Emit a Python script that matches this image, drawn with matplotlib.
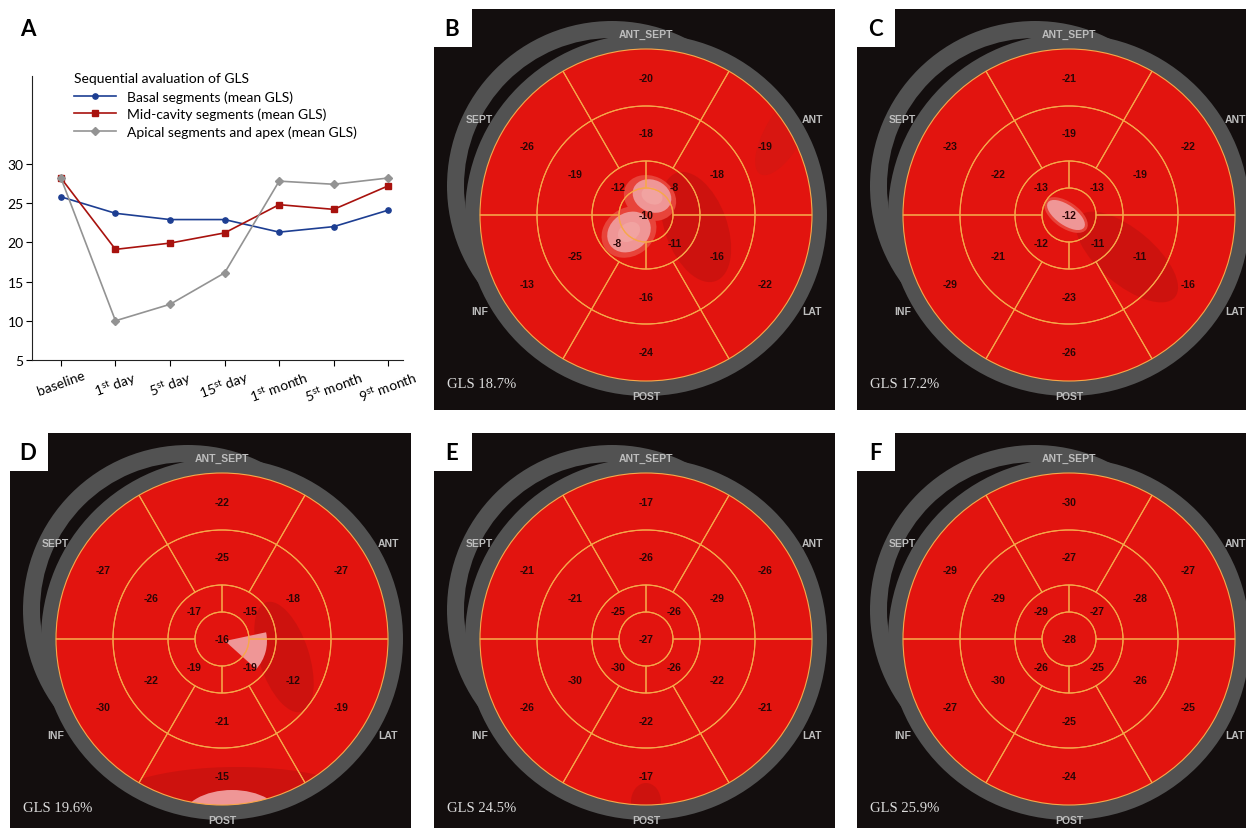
import numpy as np
import matplotlib
matplotlib.use('Agg')
import matplotlib.pyplot as plt
from matplotlib.patches import Wedge, Ellipse, Rectangle, Circle

plt.rcParams['font.family'] = ['Lato', 'DejaVu Sans']
plt.rcParams['mathtext.fontset'] = 'custom'
plt.rcParams['mathtext.rm'] = 'Lato'
plt.rcParams['mathtext.it'] = 'Lato:italic'
plt.rcParams['mathtext.bf'] = 'Lato:bold'

W, H = 1246, 829

# ---------------- panel A data ----------------
timepoints = ['baseline', r'1$^{\rm st}$ day', r'5$^{\rm st}$ day', r'15$^{\rm st}$ day',
              r'1$^{\rm st}$ month', r'5$^{\rm st}$ month', r'9$^{\rm st}$ month']
basal_gls = [25.8, 23.7, 22.9, 22.9, 21.3, 22.0, 24.1]
mid_gls = [28.2, 19.1, 19.9, 21.2, 24.8, 24.2, 27.2]
apical_gls = [28.2, 10.0, 12.1, 16.1, 27.8, 27.4, 28.2]

# ---------------- bullseye data (17 segments) ----------------
# basal / mid order: ANT_SEPT, ANT, LAT, POST, INF, SEPT (clockwise from top)
# apical order: upper-right, lower-right, lower-left, upper-left
basal_B = [-20, -19, -22, -24, -13, -26]
mid_B = [-18, -18, -16, -16, -25, -19]
apical_B = [-8, -11, -8, -12]
apex_B = -10

basal_C = [-21, -22, -16, -26, -29, -23]
mid_C = [-19, -19, -11, -23, -21, -22]
apical_C = [-13, -11, -12, -13]
apex_C = -12

basal_D = [-22, -27, -19, -15, -30, -27]
mid_D = [-25, -18, -12, -21, -22, -26]
apical_D = [-15, -19, -19, -17]
apex_D = -16

basal_E = [-17, -26, -21, -17, -26, -21]
mid_E = [-26, -29, -22, -22, -30, -21]
apical_E = [-26, -26, -30, -25]
apex_E = -27

basal_F = [-30, -27, -25, -24, -27, -29]
mid_F = [-27, -28, -26, -25, -30, -29]
apical_F = [-27, -25, -26, -29]
apex_F = -28

gls_values = {'B': 18.7, 'C': 17.2, 'D': 19.6, 'E': 24.5, 'F': 25.9}
wall_names = ['ANT_SEPT', 'ANT', 'LAT', 'POST', 'INF', 'SEPT']

# colours
RED = '#e2140f'
DARK = '#cd120e'
HALO = '#e8443a'
PINK = '#ef9696'
PINK2 = '#f1a3a1'
LINE = '#f7a84a'
GRAY = '#525252'

# texture of the scanner map (low strain spots), drawn over the red
spots = {
    'B': [('e', (50, -12), 62, 115, 20, DARK), ('e', (138, 82), 38, 95, -30, '#d81611'),
          ('e', (4, 17), 54, 44, -25, HALO), ('e', (-17, -17), 58, 48, 35, HALO),
          ('e', (6, 19), 40, 32, -25, PINK), ('e', (-17, -17), 46, 38, 35, PINK),
          ('e', (6, 19), 22, 16, -25, PINK2), ('e', (-17, -17), 24, 18, 35, PINK2)],
    'C': [('e', (58, -42), 125, 55, -40, DARK), ('e', (-3, 0), 50, 26, -35, HALO),
          ('e', (-3, 0), 44, 20, -35, PINK)],
    'D': [('e', (62, -18), 50, 115, 18, DARK), ('e', (15, -168), 270, 80, 0, DARK),
          ('w', (3, -2), 42, -42, 12, PINK), ('e', (10, -180), 100, 58, 0, PINK)],
    'E': [('e', (0, -163), 30, 38, 0, DARK)],
    'F': [],
}

fig = plt.figure(figsize=(W / 100, H / 100), dpi=100)

# ---------------- panel A ----------------
axA = fig.add_axes([32 / W, 1 - 361 / H, 371 / W, 284 / H])
x = np.arange(len(timepoints))
axA.plot(x, basal_gls, color='#1d3e92', marker='o', ms=3.8, lw=1.2,
         label='Basal segments (mean GLS)')
axA.plot(x, mid_gls, color='#a8120e', marker='s', ms=4.5, lw=1.2,
         label='Mid-cavity segments (mean GLS)')
axA.plot(x, apical_gls, color='#939393', marker='D', ms=3.6, lw=1.2,
         label='Apical segments and apex (mean GLS)')
axA.set_xlim(-0.53, 6.27)
axA.set_ylim(5, 41.2)
axA.set_yticks([5, 10, 15, 20, 25, 30])
axA.set_xticks(x)
axA.set_xticklabels(timepoints, rotation=20, ha='center', fontsize=10)
axA.tick_params(axis='y', labelsize=10, length=4, width=0.8, pad=2)
axA.tick_params(axis='x', length=4, width=0.8, pad=2)
for s in ['top', 'right']:
    axA.spines[s].set_visible(False)
for s in ['left', 'bottom']:
    axA.spines[s].set_linewidth(0.8)
    axA.spines[s].set_color('#222222')
fig.text(74 / W, 1 - 79 / H, 'Sequential avaluation of GLS', fontsize=10,
         ha='left', va='center')
leg = axA.legend(loc='upper left', bbox_to_anchor=(74 / W, 1 - 91 / H),
                 bbox_transform=fig.transFigure, frameon=False, fontsize=10,
                 handlelength=3.0, handletextpad=0.8, labelspacing=0.37,
                 borderpad=0, borderaxespad=0)
fig.text(28 / W, 1 - 30 / H, 'A', fontsize=16, fontweight='bold', ha='center', va='center')


# ---------------- bullseye panels ----------------
def bullseye(left, top, letter, basal, mid, apical, apex):
    ax = fig.add_axes([left / W, 1 - (top + 401) / H, 401 / W, 401 / H])
    ax.set_xlim(-212, 189)
    ax.set_ylim(-195, 206)
    ax.set_facecolor('#130e0e')
    ax.set_xticks([])
    ax.set_yticks([])
    for s in ax.spines.values():
        s.set_visible(False)

    # grey rings (the offset one is the shadow crescent on the upper left)
    ax.add_patch(Wedge((-34, 29), 165, 0, 360, width=17, color=GRAY, lw=0, zorder=0.5))
    ax.add_patch(Wedge((0, 0), 181, 0, 360, width=16, color=GRAY, lw=0, zorder=0.6))

    disk = Circle((0, 0), 166, transform=ax.transData)
    segs = []
    for i, v in enumerate(basal):
        a = 90 - 60 * i
        segs.append((109, 166, a - 30, a + 30, 137, a, v))
    for i, v in enumerate(mid):
        a = 90 - 60 * i
        segs.append((54, 109, a - 30, a + 30, 82, a, v))
    for i, v in enumerate(apical):
        a = 45 - 90 * i
        segs.append((27, 54, a - 45, a + 45, 40, a, v))

    for r_in, r_out, t1, t2, rt, a, v in segs:
        ax.add_patch(Wedge((0, 0), r_out, t1, t2, width=r_out - r_in,
                           facecolor=RED, edgecolor='none', zorder=1))
    ax.add_patch(Circle((0, 0), 27, facecolor=RED, edgecolor='none', zorder=1))

    for sp in spots[letter]:
        if sp[0] == 'e':
            p = Ellipse(sp[1], sp[2], sp[3], angle=sp[4], facecolor=sp[5],
                        edgecolor='none', zorder=2)
        else:
            p = Wedge(sp[1], sp[2], sp[3], sp[4], facecolor=sp[5],
                      edgecolor='none', zorder=2)
        ax.add_patch(p)
        p.set_clip_path(disk)

    for r_in, r_out, t1, t2, rt, a, v in segs:
        ax.add_patch(Wedge((0, 0), r_out, t1, t2, width=r_out - r_in,
                           fill=False, edgecolor=LINE, lw=0.8, zorder=3))
        ax.text(rt * np.cos(np.radians(a)), rt * np.sin(np.radians(a)), str(v),
                ha='center', va='center', fontsize=7.5, fontweight='bold',
                color='#2a0606', family='Liberation Sans', zorder=4)
    ax.add_patch(Circle((0, 0), 27, fill=False, edgecolor=LINE, lw=0.8, zorder=3))
    ax.text(0, 0, str(apex), ha='center', va='center', fontsize=7.5, fontweight='bold',
            color='#2a0606', family='Liberation Sans', zorder=4)

    # wall names on the grey ring
    for i, name in enumerate(wall_names):
        a = np.radians(90 - 60 * i)
        r = 181 if i in (0, 3) else 192
        ax.text(r * np.cos(a), r * np.sin(a), name, ha='center', va='center',
                fontsize=7.5, fontweight='bold', color='#bdbdbd',
                family='Liberation Sans', zorder=5)

    ax.text(-199, -169, 'GLS %.1f%%' % gls_values[letter], ha='left', va='center',
            fontsize=10.5, color='#dcdcdc', family='Liberation Serif', zorder=5)

    ax.add_patch(Rectangle((0, 1 - 38 / 401), 38 / 401, 38 / 401, transform=ax.transAxes,
                           facecolor='white', edgecolor='none', zorder=10, clip_on=False))
    ax.text(18 / 401, 1 - 20 / 401, letter, transform=ax.transAxes, ha='center', va='center',
            fontsize=16, fontweight='bold', zorder=11)


bullseye(434, 10, 'B', basal_B, mid_B, apical_B, apex_B)
bullseye(857, 10, 'C', basal_C, mid_C, apical_C, apex_C)
bullseye(10, 434, 'D', basal_D, mid_D, apical_D, apex_D)
bullseye(434, 434, 'E', basal_E, mid_E, apical_E, apex_E)
bullseye(857, 434, 'F', basal_F, mid_F, apical_F, apex_F)

fig.savefig('out.png', dpi=100)
